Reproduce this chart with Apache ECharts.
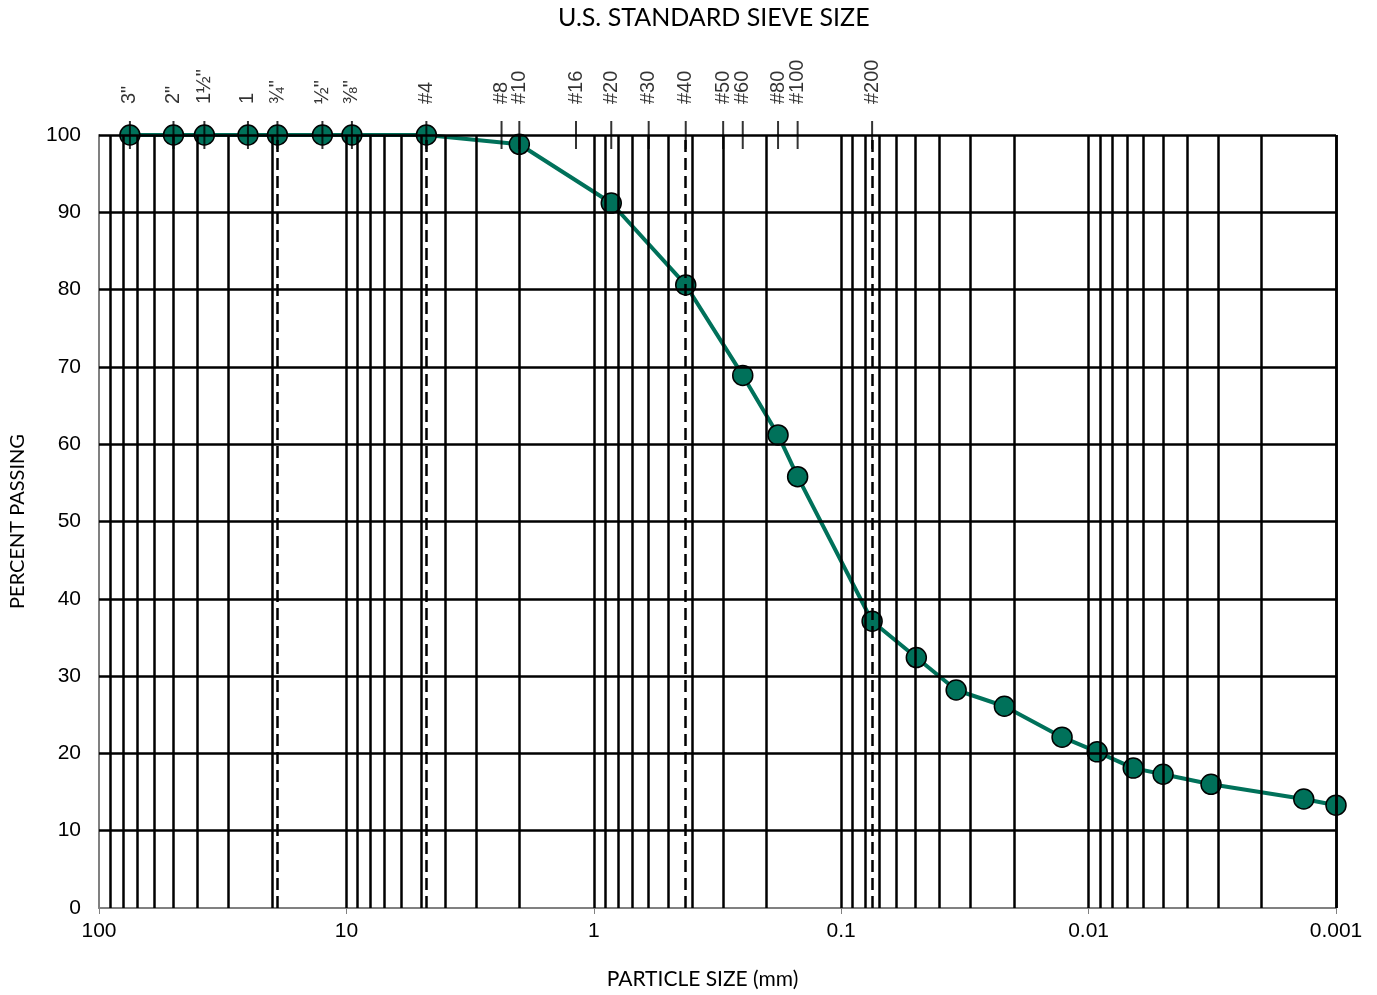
<!DOCTYPE html>
<html><head><meta charset="utf-8">
<script src="https://cdn.jsdelivr.net/npm/echarts@6/dist/echarts.min.js"></script>
<style>html,body{margin:0;padding:0;background:#fff}#c{width:1377px;height:995px}</style>
</head><body><div id="c"></div>
<script>
// Sieve designations (top axis) and their openings in mm
const sieveLabels = ['3"','2"','1½"','1','¾"','½"','⅜"','#4','#8','#10','#16','#20','#30','#40','#50','#60','#80','#100','#200'];
const sieveSizes  = [75, 50, 37.5, 25, 19, 12.5, 9.5, 4.75, 2.36, 2.0, 1.18, 0.85, 0.6, 0.425, 0.3, 0.25, 0.18, 0.15, 0.075];

// Gradation curve
const particleSizes  = [75, 50, 37.5, 25, 19, 12.5, 9.5, 4.75, 2.0, 0.85, 0.425, 0.25, 0.18, 0.15, 0.075,
                        0.0497, 0.0343, 0.0219, 0.0128, 0.00923, 0.0066, 0.0050, 0.0032, 0.00135, 0.001];
const percentPassing = [100, 100, 100, 100, 100, 100, 100, 100, 98.8, 91.2, 80.6, 68.9, 61.2, 55.8, 37.1,
                        32.4, 28.2, 26.1, 22.1, 20.2, 18.1, 17.3, 16.0, 14.1, 13.3];

// Dashed soil-class boundaries (mm)
const boundarySizes = [19, 4.75, 0.425, 0.075];

// Axis tick labels
const xTickLabels = ['100', '10', '1', '0.1', '0.01', '0.001'];
const yGridValues = [10, 20, 30, 40, 50, 60, 70, 80, 90];

// Log grid lines: 1..9 x 10^k
const xGridValues = [];
for (let k = 1; k >= -3; k--) {
  for (let m = 9; m >= 1; m--) xGridValues.push(+(m * Math.pow(10, k)).toPrecision(3));
}
xGridValues.push(0.001);

const numFont = 'Liberation Sans, Arial, sans-serif';
const titleFont = 'Lato, Open Sans, sans-serif';
const green = '#00715A';

const chart = echarts.init(document.getElementById('c'), null, {renderer: 'canvas'});
const solid = {color: '#000', width: 2.5, type: 'solid'};

chart.setOption({
  animation: false,
  backgroundColor: '#fff',
  title: {
    text: 'U.S. STANDARD SIEVE SIZE',
    left: 553, top: 0,
    textStyle: {fontFamily: titleFont, fontSize: 25, fontWeight: 'normal', color: '#000'}
  },
  grid: {left: 98, right: 41, top: 135, bottom: 86, containLabel: false},
  xAxis: {
    type: 'log', logBase: 10, min: 0.001, max: 100, inverse: true,
    name: 'PARTICLE SIZE (mm)', nameLocation: 'middle', nameGap: 61,
    nameTextStyle: {fontFamily: titleFont, fontSize: 21, color: '#000', padding: [0, 30, 0, 0]},
    axisLine: {show: true, lineStyle: {color: '#808080', width: 2}},
    axisTick: {show: true, length: 6, lineStyle: {color: '#808080', width: 1}},
    axisLabel: {
      fontFamily: numFont, fontSize: 21, color: '#000', margin: 13,
      formatter: v => xTickLabels[Math.round(2 - Math.log10(v))]
    },
    splitLine: {show: false}, minorTick: {show: false}
  },
  yAxis: {
    type: 'value', min: 0, max: 100, interval: 10,
    name: 'PERCENT PASSING', nameLocation: 'middle', nameGap: 71,
    nameTextStyle: {fontFamily: titleFont, fontSize: 20, color: '#000'},
    axisLine: {show: true, lineStyle: {color: '#808080', width: 2}},
    axisTick: {show: false},
    axisLabel: {fontFamily: numFont, fontSize: 21, color: '#000', margin: 18},
    splitLine: {show: false}
  },
  series: [
    {
      name: 'grid', type: 'line', data: [], z: 1, silent: true,
      markLine: {
        silent: true, precision: 8, symbol: ['none', 'none'], label: {show: false},
        lineStyle: solid, emphasis: {disabled: true},
        data: xGridValues.map(v => ({xAxis: v})).concat(yGridValues.map(v => ({yAxis: v})))
      }
    },
    {
      name: 'Percent passing', type: 'line', z: 3,
      data: particleSizes.map((d, i) => [d, percentPassing[i]]),
      lineStyle: {color: green, width: 4},
      symbol: 'circle', symbolSize: 20,
      itemStyle: {color: green, borderColor: '#000', borderWidth: 1.5},
      emphasis: {disabled: true}
    },
    {
      name: 'overlay', type: 'line', data: [], z: 5, silent: true,
      markLine: {
        silent: true, precision: 8, symbol: ['none', 'none'], label: {show: false}, emphasis: {disabled: true},
        data: boundarySizes.map(v => ({xAxis: v, lineStyle: {color: '#000', width: 2.5, type: [12, 6]}}))
          .concat([{yAxis: 100, lineStyle: solid}])
      }
    },
    {
      name: 'sieves', type: 'scatter', z: 6, silent: true,
      data: sieveSizes.map((s, i) => [s, 100, sieveLabels[i]]),
      symbol: 'rect', symbolSize: [2, 28],
      itemStyle: {color: '#000'},
      label: {
        show: true, formatter: p => p.data[2], position: 'top', distance: 17,
        rotate: 90, align: 'left', verticalAlign: 'middle',
        fontFamily: numFont, fontSize: 20, color: '#000'
      },
      emphasis: {disabled: true}
    }
  ]
});
</script></body></html>
